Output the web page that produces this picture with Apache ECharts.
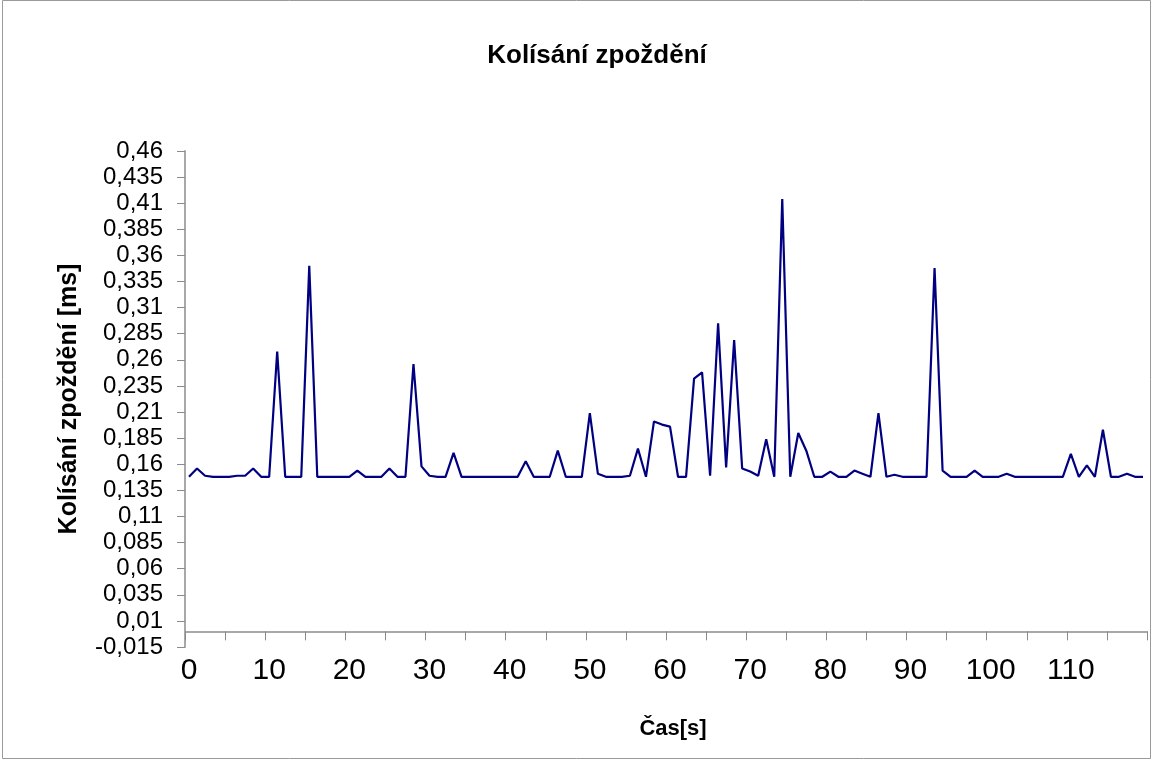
<!DOCTYPE html>
<html>
<head>
<meta charset="utf-8">
<script src="https://cdn.jsdelivr.net/npm/echarts@6/dist/echarts.min.js"></script>
<style>
  html, body { margin: 0; padding: 0; background: #fff; }
  #main { width: 1152px; height: 760px; }
</style>
</head>
<body>
<div id="main"></div>
<script>
// Kolísání zpoždění (ms), jedna hodnota za sekundu
var delay = [
    0.148, 0.156, 0.149, 0.148, 0.148, 0.148, 0.149, 0.149, 0.156, 0.148,
    0.148, 0.268, 0.148, 0.148, 0.148, 0.350, 0.148, 0.148, 0.148, 0.148,
    0.148, 0.154, 0.148, 0.148, 0.148, 0.156, 0.148, 0.148, 0.256, 0.158,
    0.149, 0.148, 0.148, 0.171, 0.148, 0.148, 0.148, 0.148, 0.148, 0.148,
    0.148, 0.148, 0.163, 0.148, 0.148, 0.148, 0.173, 0.148, 0.148, 0.148,
    0.209, 0.151, 0.148, 0.148, 0.148, 0.149, 0.175, 0.148, 0.201, 0.198,
    0.196, 0.148, 0.148, 0.242, 0.248, 0.149, 0.295, 0.157, 0.279, 0.156,
    0.153, 0.149, 0.184, 0.148, 0.414, 0.148, 0.190, 0.173, 0.148, 0.148,
    0.153, 0.148, 0.148, 0.154, 0.151, 0.148, 0.209, 0.148, 0.150, 0.148,
    0.148, 0.148, 0.148, 0.348, 0.154, 0.148, 0.148, 0.148, 0.154, 0.148,
    0.148, 0.148, 0.151, 0.148, 0.148, 0.148, 0.148, 0.148, 0.148, 0.148,
    0.170, 0.148, 0.159, 0.148, 0.193, 0.148, 0.148, 0.151, 0.148, 0.148
];

// čas v sekundách (kategorie osy x)
var seconds = delay.map(function(v, i) { return String(i); });

// popisky osy y
var yTicks = [-0.015, 0.01, 0.035, 0.06, 0.085, 0.11, 0.135, 0.16, 0.185, 0.21,
    0.235, 0.26, 0.285, 0.31, 0.335, 0.36, 0.385, 0.41, 0.435, 0.46];

var font = "'Liberation Sans', Arial, sans-serif";
var axisGrey = '#a8a8a8';
var tickGrey = '#8a8a8a';

var myChart = echarts.init(document.getElementById('main'));

option = {
    animation: false,
    backgroundColor: '#fff',
    title: {
        text: 'Kolísání zpoždění',
        left: 592,
        top: 38,
        textAlign: 'center',
        textStyle: {
            fontFamily: font,
            fontSize: 26,
            fontWeight: 'bold',
            color: '#000'
        }
    },
    graphic: [{
        type: 'rect',
        shape: { x: 2.5, y: 0.5, width: 1148, height: 758 },
        style: { fill: 'none', stroke: '#9a9a9a', lineWidth: 1 },
        silent: true
    }],
    grid: {
        left: 185,
        top: 151,
        right: 5,
        bottom: 113
    },
    xAxis: [{
            // osa na nule - jen čára a značky
            type: 'category',
            data: seconds,
            boundaryGap: true,
            axisLine: {
                show: true,
                onZero: true,
                lineStyle: { color: axisGrey, width: 2 }
            },
            axisTick: {
                show: true,
                interval: 4,
                length: 9,
                lineStyle: { color: tickGrey, width: 1 }
            },
            axisLabel: { show: false },
            splitLine: { show: false }
        },
        {
            // popisky dole pod grafem
            type: 'category',
            data: seconds,
            boundaryGap: true,
            position: 'bottom',
            axisLine: { show: false, onZero: false },
            axisTick: { show: false },
            axisLabel: {
                interval: 9,
                margin: 9,
                fontFamily: font,
                fontSize: 30,
                color: '#000'
            },
            splitLine: { show: false },
            name: 'Čas[s]',
            nameLocation: 'middle',
            nameGap: 71,
            nameTextStyle: {
                fontFamily: font,
                fontSize: 22,
                fontWeight: 'bold',
                color: '#000',
                padding: [0, 0, 0, 14]
            }
        }
    ],
    yAxis: {
        type: 'value',
        min: -0.015,
        max: 0.46,
        axisLine: {
            show: true,
            lineStyle: { color: axisGrey, width: 2 }
        },
        axisTick: {
            show: true,
            length: 8,
            customValues: yTicks,
            lineStyle: { color: tickGrey, width: 1 }
        },
        axisLabel: {
            customValues: yTicks,
            margin: 22,
            fontFamily: font,
            fontSize: 24,
            color: '#000',
            formatter: function(v) {
                return String(+v.toFixed(3)).replace('.', ',');
            }
        },
        splitLine: { show: false },
        name: 'Kolísání zpoždění [ms]',
        nameLocation: 'middle',
        nameRotate: 90,
        nameGap: 103,
        nameTextStyle: {
            fontFamily: font,
            fontSize: 25,
            fontWeight: 'bold',
            color: '#000'
        }
    },
    series: [{
        type: 'line',
        xAxisIndex: 0,
        yAxisIndex: 0,
        data: delay,
        showSymbol: false,
        symbol: 'none',
        smooth: false,
        lineStyle: { color: '#000080', width: 2.2 }
    }]
};

myChart.setOption(option);
</script>
</body>
</html>
